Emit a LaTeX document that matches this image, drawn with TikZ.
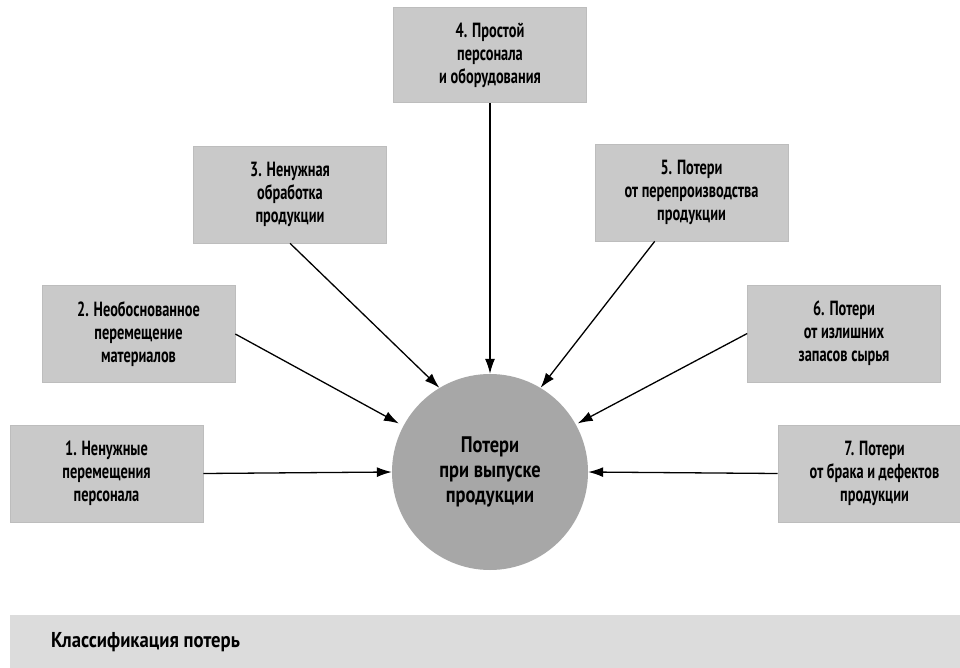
\documentclass[tikz,border=0pt]{standalone}
\usepackage{fontspec}
\setmainfont{PT Sans}[FakeStretch=0.70]
\newfontfamily\hubfont{PT Sans}[FakeStretch=0.82]
\newfontfamily\barfont{PT Sans}[FakeStretch=0.87]
\usetikzlibrary{arrows.meta}
\definecolor{boxgray}{HTML}{C9C9C9}
\definecolor{boxedge}{HTML}{BDBDBD}
\definecolor{circgray}{HTML}{A7A7A7}
\definecolor{bargray}{HTML}{DCDCDC}
\begin{document}
\begin{tikzpicture}[x=1pt,y=-1pt,
  lossbox/.style={rectangle, fill=boxgray, draw=boxedge, line width=0.6pt,
    minimum width=193pt, minimum height=97pt, align=center, inner sep=2pt,
    font=\fontsize{20.5}{23}\selectfont\bfseries},
  hub/.style={circle, fill=circgray, minimum size=196pt, inner sep=0pt, align=center,
    font=\hubfont\fontsize{22.5}{25}\selectfont\bfseries},
  link/.style={line width=1.3pt, -{Latex[length=15pt,width=10pt]}}]
\useasboundingbox (0,0) rectangle (960,668);
\fill[white] (0,0) rectangle (960,668);

\node[hub] (c) at (490,472) {Потери\\при выпуске\\продукции};

\node[lossbox] (b1) at (106.5,473.5) {1. Ненужные\\перемещения\\персонала};
\node[lossbox] (b2) at (138.5,334) {2. Необоснованное\\перемещение\\материалов};
\node[lossbox] (b3) at (290,194.5) {3. Ненужная\\обработка\\продукции};
\node[lossbox, minimum height=95pt] (b4) at (490,55) {4. Простой\\персонала\\и оборудования};
\node[lossbox] (b5) at (691.5,192.5) {5. Потери\\от перепроизводства\\продукции};
\node[lossbox] (b6) at (844,333.5) {6. Потери\\от излишних\\запасов сырья};
\node[lossbox] (b7) at (874.5,473.5) {7. Потери\\от брака и дефектов\\продукции};

\draw[link] (b1.east) -- (c.180);
\draw[link, shorten >=5pt] (b2.east) -- (c.152);
\draw[link] (b3.south) -- (c.121);
\draw[link] (b4.south) -- (c.north);
\draw[link] (b5.233) -- (c.59);
\draw[link, shorten >=2pt] (b6.west) -- (c.29);
\draw[link] (b7.west) -- (c.0);

\node[rectangle, fill=bargray, minimum width=960pt, minimum height=53pt, inner sep=0pt,
  anchor=north west] (bar) at (10,615) {};
\node[anchor=west, font=\barfont\fontsize{21.5}{24}\selectfont\bfseries, inner sep=0pt] (bartext)
  at (51,642) {Классификация потерь};
\end{tikzpicture}
\end{document}
